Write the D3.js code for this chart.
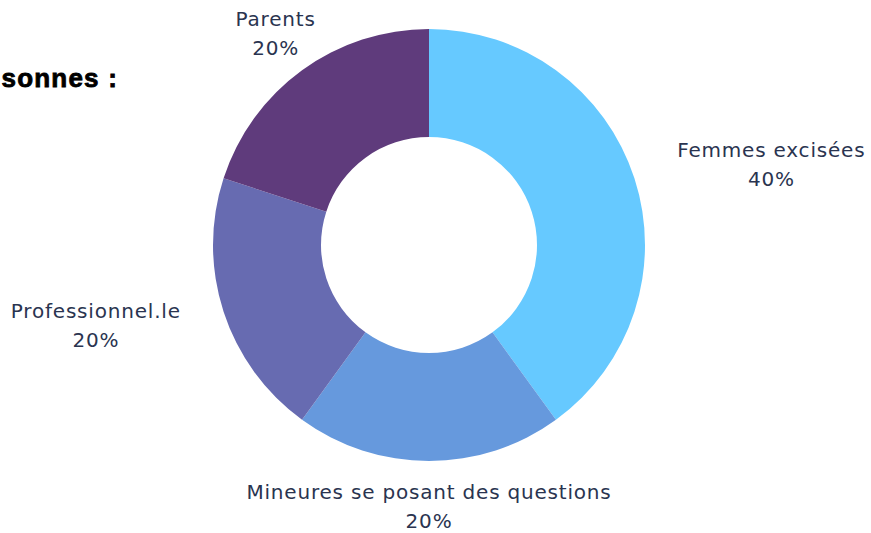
<!DOCTYPE html>
<html>
<head>
<meta charset="utf-8">
<script src="https://cdn.jsdelivr.net/npm/d3@7"></script>
<style>
  html, body { margin: 0; padding: 0; background: #ffffff; }
  svg { display: block; }
</style>
</head>
<body>
<svg id="chart" width="871" height="533"></svg>
<script>
const categories = ["Femmes excisées", "Mineures se posant des questions", "Professionnel.le", "Parents"];
const values = [40, 20, 20, 20];
const percentLabels = ["40%", "20%", "20%", "20%"];
const colors = ["#66c9ff", "#6699dd", "#676bb1", "#5f3b7c"];
const titleText = "sonnes :";

const svg = d3.select("#chart");
const cx = 429, cy = 245;
const outerR = 216, innerR = 108, labelR = 261;

const data = categories.map((c, i) => ({ name: c, value: values[i], pct: percentLabels[i], color: colors[i] }));

const pie = d3.pie().value(d => d.value).sort(null);
const arc = d3.arc().innerRadius(innerR).outerRadius(outerR);

const g = svg.append("g").attr("transform", `translate(${cx},${cy})`);
const arcs = pie(data);

g.selectAll("path.slice")
  .data(arcs)
  .join("path")
  .attr("class", "slice")
  .attr("d", arc)
  .attr("fill", d => d.data.color);

const labelFont = "'DejaVu Sans', sans-serif";
const fontSize = 20;
const letterSpacing = 0.8;
const lineGap = 29;

arcs.forEach(a => {
  const mid = (a.startAngle + a.endAngle) / 2;
  const px = Math.sin(mid) * labelR;
  const py = -Math.cos(mid) * labelR;
  const s = Math.sin(mid);
  const lg = g.append("g");
  const t1 = lg.append("text")
    .attr("font-family", labelFont)
    .attr("font-size", fontSize)
    .attr("letter-spacing", letterSpacing)
    .attr("fill", "#2a3450")
    .attr("text-anchor", "middle")
    .attr("dominant-baseline", "central")
    .text(a.data.name);
  const w = t1.node().getComputedTextLength();
  let centerX = px;
  if (s > 0.6) centerX = px + w / 2;
  else if (s < -0.6) centerX = px - w / 2;
  t1.attr("x", centerX).attr("y", py - lineGap / 2);
  lg.append("text")
    .attr("font-family", labelFont)
    .attr("font-size", fontSize)
    .attr("letter-spacing", letterSpacing)
    .attr("fill", "#2a3450")
    .attr("text-anchor", "middle")
    .attr("dominant-baseline", "central")
    .attr("x", centerX)
    .attr("y", py + lineGap / 2)
    .text(a.data.pct);
});

svg.append("text")
  .attr("x", 118)
  .attr("y", 87)
  .attr("text-anchor", "end")
  .attr("font-family", "'Liberation Sans', Arial, sans-serif")
  .attr("font-weight", "bold")
  .attr("font-size", 26)
  .attr("letter-spacing", 1.2)
  .attr("stroke", "#000000")
  .attr("stroke-width", 0.8)
  .attr("fill", "#000000")
  .text(titleText);
</script>
</body>
</html>
